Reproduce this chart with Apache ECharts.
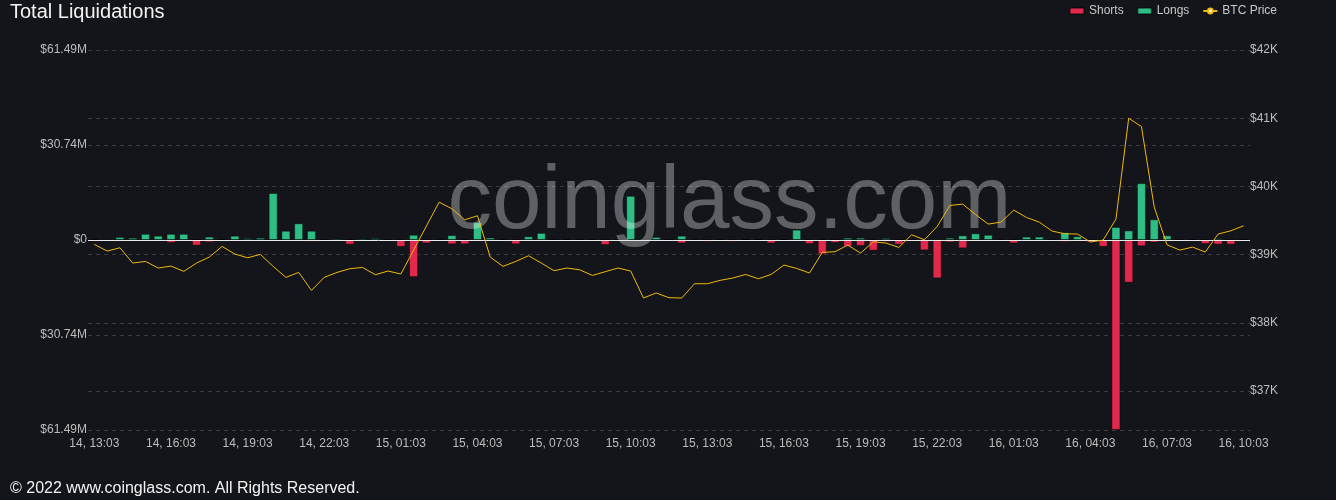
<!DOCTYPE html>
<html>
<head>
<meta charset="utf-8">
<script src="https://cdn.jsdelivr.net/npm/echarts@6/dist/echarts.min.js"></script>
<style>
html,body{margin:0;padding:0;background:#14151a;}
#chart{width:1336px;height:500px;}
</style>
</head>
<body>
<div id="chart"></div>
<script>
const categories = [
'14, 13:03','14, 13:33','14, 14:03','14, 14:33','14, 15:03','14, 15:33','14, 16:03','14, 16:33','14, 17:03','14, 17:33',
'14, 18:03','14, 18:33','14, 19:03','14, 19:33','14, 20:03','14, 20:33','14, 21:03','14, 21:33','14, 22:03','14, 22:33',
'14, 23:03','14, 23:33','15, 00:03','15, 00:33','15, 01:03','15, 01:33','15, 02:03','15, 02:33','15, 03:03','15, 03:33',
'15, 04:03','15, 04:33','15, 05:03','15, 05:33','15, 06:03','15, 06:33','15, 07:03','15, 07:33','15, 08:03','15, 08:33',
'15, 09:03','15, 09:33','15, 10:03','15, 10:33','15, 11:03','15, 11:33','15, 12:03','15, 12:33','15, 13:03','15, 13:33',
'15, 14:03','15, 14:33','15, 15:03','15, 15:33','15, 16:03','15, 16:33','15, 17:03','15, 17:33','15, 18:03','15, 18:33',
'15, 19:03','15, 19:33','15, 20:03','15, 20:33','15, 21:03','15, 21:33','15, 22:03','15, 22:33','15, 23:03','15, 23:33',
'16, 00:03','16, 00:33','16, 01:03','16, 01:33','16, 02:03','16, 02:33','16, 03:03','16, 03:33','16, 04:03','16, 04:33',
'16, 05:03','16, 05:33','16, 06:03','16, 06:33','16, 07:03','16, 07:33','16, 08:03','16, 08:33','16, 09:03','16, 09:33',
'16, 10:03'
];

// Long liquidations, millions USD
const longs = [
0.2,0.4,1.0,0.75,2.0,1.4,2.0,2.0,0.2,1.1,
0.3,1.4,0.6,0.75,15.2,3.0,5.4,3.0,0.2,0.5,
0.3,0.5,0.6,0.1,0.2,1.7,0.2,0.1,1.6,0.2,
5.8,0.8,0.1,0.1,1.2,2.3,0.1,0.2,0.3,0.1,
0.1,0.1,14.3,0.4,1.0,0.2,1.4,0.1,0.1,0.1,
0.1,0.3,0.3,0.1,0.3,3.35,0.1,0.2,0.1,0.75,
0.75,0.1,0.65,0.2,0.1,0.1,0.4,0.75,1.5,2.15,
1.7,0.1,0.2,1.1,1.1,0.2,2.5,1.2,0.2,0.1,
4.2,3.1,18.4,6.7,1.5,0.1,0.3,0.2,0.55,0.1,
0.3
];

// Short liquidations, millions USD (drawn below zero)
const shorts = [
-0.5,-0.1,-0.1,-0.1,-0.1,-0.1,-0.9,-0.3,-1.8,-0.75,
-0.4,-0.3,-0.3,-0.2,-0.2,-0.1,-0.1,-0.55,-0.2,-0.2,
-1.5,-0.2,-0.3,-0.2,-2.2,-12.0,-1.1,-0.3,-1.4,-1.4,
-0.3,-0.1,-0.1,-1.4,-0.2,-0.1,-0.1,-0.1,-0.1,-0.2,
-1.6,-0.1,-0.3,-0.2,-0.1,-0.2,-1.1,-0.3,-0.55,-0.3,
-0.55,-0.1,-0.1,-1.1,-0.1,-0.1,-1.3,-4.65,-0.9,-2.2,
-1.9,-3.45,-0.65,-1.5,-0.3,-3.35,-12.4,-0.75,-2.7,-0.1,
-0.1,-0.45,-1.1,-0.1,-0.1,-0.45,-0.65,-0.45,-0.75,-2.2,
-61.49,-13.8,-2.0,-0.8,-0.1,-0.3,-0.1,-1.3,-1.5,-1.5,
-0.1
];

// BTC price, USD
const btcPrice = [
39150,39053,39101,38877,38901,38804,38833,38755,38877,38965,
39121,39009,38955,39004,38828,38667,38740,38476,38667,38740,
38794,38813,38706,38760,38716,39067,39419,39770,39672,39511,
39570,38965,38828,38901,38984,38877,38765,38804,38779,38696,
38750,38804,38760,38365,38438,38369,38365,38574,38574,38623,
38658,38710,38647,38710,38848,38798,38731,39033,39043,39140,
39023,39189,39170,39106,39292,39218,39413,39721,39741,39589,
39448,39477,39653,39545,39477,39346,39306,39302,39185,39214,
39521,41000,40877,39697,39145,39067,39111,39038,39302,39350,
39423
];

const leftTickLabels = ['$61.49M','$30.74M','$0','$30.74M','$61.49M'];
const leftMax = 61.49;
const rightTickValues = [37000,38000,39000,40000,41000,42000];
const rightTickLabels = ['$37K','$38K','$39K','$40K','$41K','$42K'];
const rightMin = 36430;
const rightMax = 42000;

const RED = '#e2294d';
const GREEN = '#2ebd85';
const GOLD = '#f0b90b';
const FONT = 'Arial, "Liberation Sans", Helvetica, sans-serif';

const chart = echarts.init(document.getElementById('chart'), null, {renderer:'canvas'});
chart.setOption({
  backgroundColor: '#14151a',
  animation: false,
  textStyle: {fontFamily: FONT},
  title: {
    text: 'Total Liquidations',
    left: 10, top: 2, padding: 0,
    textStyle: {color: '#f2f2f2', fontSize: 20, fontWeight: 'normal', fontFamily: FONT}
  },
  legend: {
    top: 0, right: 54,
    itemWidth: 14, itemHeight: 6, itemGap: 13,
    textStyle: {color: '#c8c8c8', fontSize: 12, fontFamily: FONT},
    data: [
      {name: 'Shorts', icon: 'roundRect'},
      {name: 'Longs', icon: 'roundRect'},
      {name: 'BTC Price'}
    ]
  },
  grid: {left: 88, right: 86, top: 50, bottom: 70, containLabel: false},
  xAxis: {
    type: 'category',
    data: categories,
    boundaryGap: true,
    axisLine: {show: false},
    axisTick: {show: false},
    axisLabel: {interval: 5, color: '#bdbdbd', fontSize: 12, margin: 8, fontFamily: FONT},
    splitLine: {show: false}
  },
  yAxis: [
    {
      type: 'value', position: 'left',
      min: -leftMax, max: leftMax, interval: leftMax / 2,
      axisLine: {show: false}, axisTick: {show: false},
      axisLabel: {color: '#bdbdbd', fontSize: 12, margin: 1, fontFamily: FONT,
        formatter: function (v, i) { return leftTickLabels[i]; }},
      splitLine: {show: true, lineStyle: {color: '#3a3b40', type: [4, 4], width: 1}}
    },
    {
      type: 'value', position: 'right',
      min: rightMin, max: rightMax,
      axisLine: {show: false},
      axisTick: {show: false, customValues: rightTickValues},
      axisLabel: {color: '#bdbdbd', fontSize: 12, margin: 0, fontFamily: FONT,
        customValues: rightTickValues,
        formatter: function (v) { return rightTickLabels[rightTickValues.indexOf(v)] || ''; }},
      splitLine: {show: true, lineStyle: {color: '#3a3b40', type: [4, 4], width: 1}}
    }
  ],
  series: [
    {
      name: 'Shorts', type: 'bar', stack: 'liq', yAxisIndex: 0,
      data: shorts, barWidth: 9, z: 2,
      itemStyle: {color: RED, borderColor: 'rgba(0,0,0,0.4)', borderWidth: 1}
    },
    {
      name: 'Longs', type: 'bar', stack: 'liq', yAxisIndex: 0,
      data: longs, barWidth: 9, z: 2,
      itemStyle: {color: GREEN, borderColor: 'rgba(0,0,0,0.4)', borderWidth: 1},
      markLine: {
        silent: true, symbol: ['none', 'none'], label: {show: false},
        lineStyle: {color: '#e8e8e8', type: 'solid', width: 1},
        data: [{yAxis: 0}]
      }
    },
    {
      name: 'BTC Price', type: 'line', yAxisIndex: 1,
      data: btcPrice, z: 6,
      symbol: 'emptyCircle', symbolSize: 6, showSymbol: false,
      lineStyle: {color: GOLD, width: 1},
      itemStyle: {color: GOLD}
    }
  ],
  graphic: [
    {
      type: 'text', x: 729.5, y: 203, z: 4, silent: true,
      style: {text: 'coinglass.com', font: '89px Arial, "Liberation Sans", sans-serif',
        fill: 'rgba(255,255,255,0.32)', align: 'center', verticalAlign: 'middle'}
    },
    {
      type: 'text', left: 10, top: 481, z: 10,
      style: {text: '\u00a9 2022 www.coinglass.com. All Rights Reserved.',
        font: '16px Arial, "Liberation Sans", sans-serif', fill: '#f2f2f2'}
    }
  ]
});
</script>
</body>
</html>
